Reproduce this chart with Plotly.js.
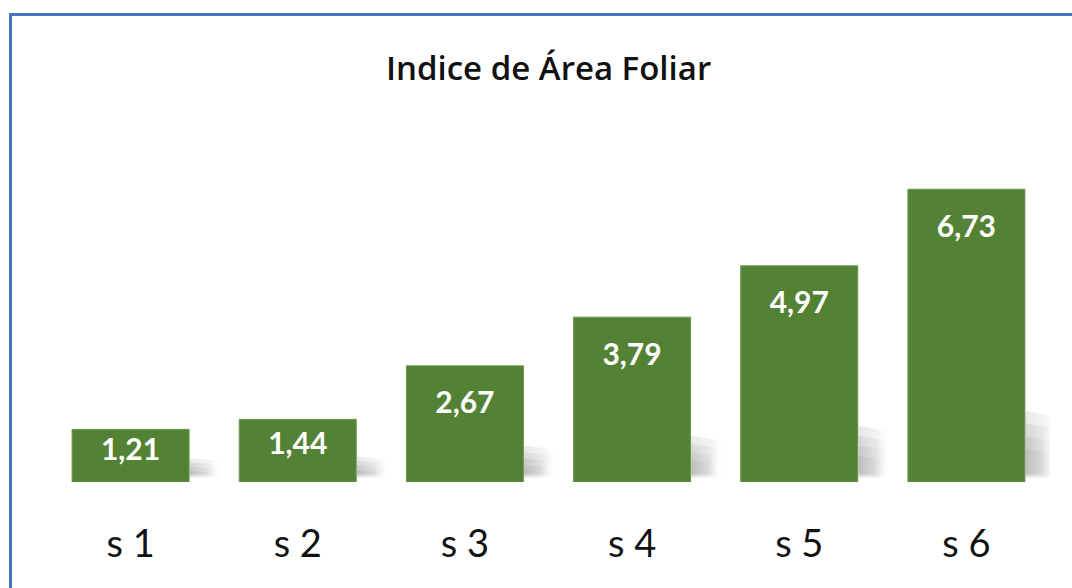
<!DOCTYPE html>
<html>
<head>
<meta charset="utf-8">
<script src="https://cdn.plot.ly/plotly-3.0.1.min.js"></script>
<style>
  html, body { margin: 0; padding: 0; background: #ffffff; }
  #chart { position: absolute; left: 0; top: 0; width: 1072px; height: 588px; }
  #frame { position: absolute; left: 9px; top: 13px; width: 1080px; height: 600px;
           border-top: 3px solid #4472C4; border-left: 3px solid #4472C4; pointer-events: none; }
</style>
</head>
<body>
<div id="chart"></div>
<div id="frame"></div>
<script>
const categories = ["s 1", "s 2", "s 3", "s 4", "s 5", "s 6"];
const values = [1.21, 1.44, 2.67, 3.79, 4.97, 6.73];
const titleText = "Indice de Área Foliar";

const positions = categories.map((c, i) => i);
const labels = values.map(v => v.toFixed(2).replace('.', ','));
const labelY = values.map(v => Math.max(v - 0.92, v * 0.57));

const barWidth = 0.7;
const traces = [];

// soft shadows to the right of each bar (layered for a blurred look)
const layers = [1.0, 0.82, 0.64, 0.46];
values.forEach((v, i) => {
  const xr = positions[i] + barWidth / 2 + 0.004;
  const h = v * 0.2 + 0.3;
  layers.forEach((f, k) => {
    const w = 0.19 - k * 0.015;
    traces.push({
      type: 'scatter', mode: 'lines',
      x: [xr, xr + w, xr + w, xr, xr],
      y: [0.1 + k * 0.03, 0.1 + k * 0.03, h * f * 0.9, h * f, 0.1 + k * 0.03],
      fill: 'toself',
      line: { width: 0, color: 'rgba(0,0,0,0)' },
      fillgradient: {
        type: 'horizontal',
        colorscale: [[0, 'rgba(150,150,150,0.22)'], [0.6, 'rgba(170,170,170,0.14)'], [1, 'rgba(220,220,220,0)']]
      },
      hoverinfo: 'skip', showlegend: false
    });
  });
});

traces.push({
  type: 'bar',
  x: positions,
  y: values,
  width: barWidth,
  marker: { color: '#548235', line: { color: '#6b9650', width: 1 } },
  hoverinfo: 'skip',
  showlegend: false
});

traces.push({
  type: 'scatter',
  mode: 'text',
  x: positions,
  y: labelY,
  text: labels,
  textposition: 'middle center',
  textfont: { family: 'Lato, sans-serif', size: 30, color: '#ffffff', weight: 'bold' },
  hoverinfo: 'skip',
  showlegend: false
});

const layout = {
  width: 1072, height: 588,
  margin: { l: 47, r: 22, t: 134, b: 106 },
  paper_bgcolor: '#ffffff', plot_bgcolor: '#ffffff',
  title: {
    text: titleText,
    font: { family: '"Open Sans", sans-serif', size: 33, color: '#111111', weight: 600 },
    xref: 'container', x: 0.5117, xanchor: 'center',
    yref: 'container', y: 1 - 68.5 / 588, yanchor: 'middle'
  },
  xaxis: {
    range: [-0.5, 5.5],
    tickmode: 'array', tickvals: positions, ticktext: categories,
    showgrid: false, zeroline: false, showline: false, ticks: '',
    tickfont: { family: 'Lato, sans-serif', size: 38, color: '#111111' },
    ticklabelstandoff: 36,
    fixedrange: true
  },
  yaxis: {
    range: [0, 8], visible: false, showgrid: false, zeroline: false, fixedrange: true
  },
  showlegend: false
};

Plotly.newPlot('chart', traces, layout, { displayModeBar: false, staticPlot: true });
</script>
</body>
</html>
